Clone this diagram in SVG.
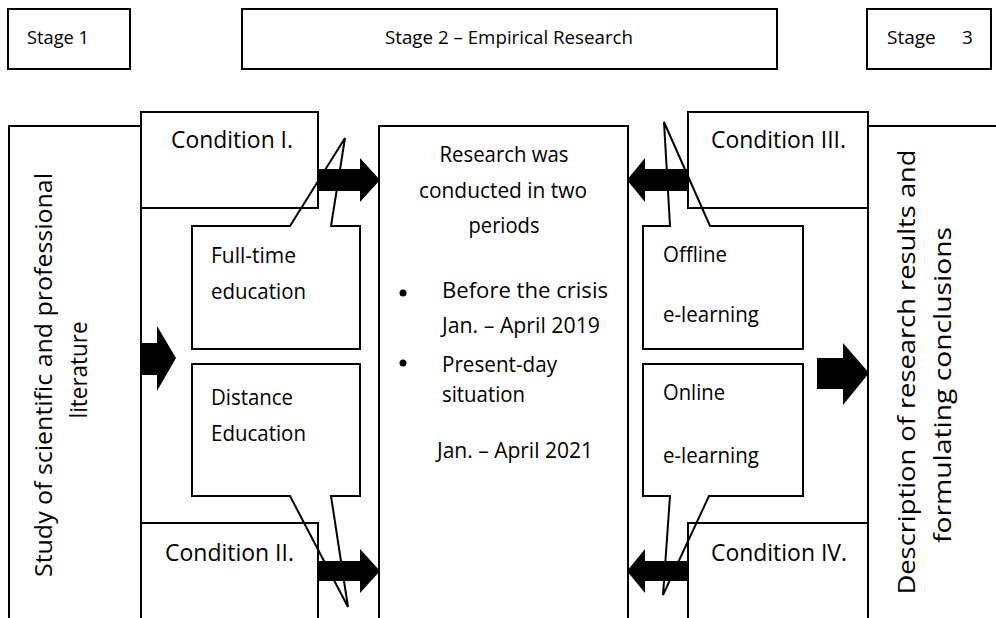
<svg xmlns="http://www.w3.org/2000/svg" width="996" height="618" viewBox="0 0 996 618">
<style>
.b{fill:none;stroke:#000;stroke-width:2}
.ar{fill:#000;stroke:none}
text{font-family:"Open Sans","Noto Sans","Liberation Sans",sans-serif;fill:#000}
.s{font-size:19px}
.c{font-size:23px}
.t{font-size:21px}
.r{font-size:23px}
</style>
<rect width="996" height="618" fill="#fff"/>
<g id="stage1"><rect class="b" x="8" y="9" width="122" height="60"/><text class="s" x="27" y="44" textLength="62" lengthAdjust="spacingAndGlyphs">Stage 1</text></g>
<g id="stage2"><rect class="b" x="242" y="9" width="535" height="60"/><text class="s" x="509" y="44" text-anchor="middle" textLength="248" lengthAdjust="spacingAndGlyphs">Stage 2 – Empirical Research</text></g>
<g id="stage3"><rect class="b" x="867" y="9" width="124" height="60"/><text class="s" x="887" y="44">Stage<tspan x="962">3</tspan></text></g>

<g id="col-left"><path class="b" d="M9,618 V126 H141 V618"/>
<text class="r" transform="translate(52,375) rotate(-90)" text-anchor="middle" textLength="404" lengthAdjust="spacingAndGlyphs">Study of scientific and professional</text>
<text class="r" transform="translate(87,370) rotate(-90)" text-anchor="middle" textLength="97" lengthAdjust="spacingAndGlyphs">literature</text></g>
<g id="col-mid"><path class="b" d="M379,618 V126 H628 V618"/>
<text class="t" x="504" y="162" text-anchor="middle" textLength="129" lengthAdjust="spacingAndGlyphs">Research was</text>
<text class="t" x="503" y="198" text-anchor="middle" textLength="168" lengthAdjust="spacingAndGlyphs">conducted in two</text>
<text class="t" x="504" y="233" text-anchor="middle" textLength="71" lengthAdjust="spacingAndGlyphs">periods</text>
<circle cx="403" cy="293" r="3.5"/>
<text class="t" x="442" y="298" textLength="166" lengthAdjust="spacingAndGlyphs">Before the crisis</text>
<text class="t" x="442" y="333" textLength="158" lengthAdjust="spacingAndGlyphs">Jan. – April 2019</text>
<circle cx="403" cy="363" r="3.5"/>
<text class="t" x="442" y="372" textLength="115" lengthAdjust="spacingAndGlyphs">Present-day</text>
<text class="t" x="442" y="402" textLength="83" lengthAdjust="spacingAndGlyphs">situation</text>
<text class="t" x="437" y="458" textLength="156" lengthAdjust="spacingAndGlyphs">Jan. – April 2021</text></g>
<g id="col-right"><path class="b" d="M868,618 V126 H996"/>
<text class="r" transform="translate(915,372) rotate(-90)" text-anchor="middle" textLength="445" lengthAdjust="spacingAndGlyphs">Description of research results and</text>
<text class="r" transform="translate(951,385) rotate(-90)" text-anchor="middle" textLength="316" lengthAdjust="spacingAndGlyphs">formulating conclusions</text></g>

<g id="cond1"><rect class="b" x="141" y="112" width="177" height="96"/><text class="c" x="171" y="148" textLength="122" lengthAdjust="spacingAndGlyphs">Condition I.</text></g>
<g id="cond2"><path class="b" d="M141,618 V523 H318 V618"/><text class="c" x="165" y="561" textLength="129" lengthAdjust="spacingAndGlyphs">Condition II.</text></g>
<g id="cond3"><rect class="b" x="688" y="112" width="180" height="96"/><text class="c" x="711" y="148" textLength="135" lengthAdjust="spacingAndGlyphs">Condition III.</text></g>
<g id="cond4"><path class="b" d="M688,618 V523 H868 V618"/><text class="c" x="711" y="561" textLength="136" lengthAdjust="spacingAndGlyphs">Condition IV.</text></g>

<g id="callout-fulltime"><path class="b" d="M192,226 H290 L345,138 L331,226 H360 V349 H192 Z"/>
<text class="t" x="211" y="263" textLength="85" lengthAdjust="spacingAndGlyphs">Full-time</text><text class="t" x="211" y="299" textLength="95" lengthAdjust="spacingAndGlyphs">education</text></g>
<g id="callout-distance"><path class="b" d="M192,364 H360 V496 H331 L348,607 L290,496 H192 Z"/>
<text class="t" x="211" y="405" textLength="82" lengthAdjust="spacingAndGlyphs">Distance</text><text class="t" x="211" y="441" textLength="95" lengthAdjust="spacingAndGlyphs">Education</text></g>
<g id="callout-offline"><path class="b" d="M643,226 H670 L664,122 L710,226 H803 V349 H643 Z"/>
<text class="t" x="663" y="262" textLength="64" lengthAdjust="spacingAndGlyphs">Offline</text><text class="t" x="663" y="322" textLength="96" lengthAdjust="spacingAndGlyphs">e-learning</text></g>
<g id="callout-online"><path class="b" d="M643,364 H803 V496 H709 L663,595 L670,496 H643 Z"/>
<text class="t" x="663" y="400" textLength="62" lengthAdjust="spacingAndGlyphs">Online</text><text class="t" x="663" y="463" textLength="96" lengthAdjust="spacingAndGlyphs">e-learning</text></g>

<g id="connectors">
<path class="ar" d="M318,169 H360 V158 L380,180 L360,202 V191 H318 Z"/>
<path class="ar" d="M318,561 H360 V549 L380,571 L360,593 V581 H318 Z"/>
<path class="ar" d="M688,169 H645 V158 L627,180 L645,202 V191 H688 Z"/>
<path class="ar" d="M688,561 H645 V549 L627,571 L645,593 V581 H688 Z"/>
<path class="ar" d="M141,343 H157 V326 L176,358 L157,391 V375 H141 Z"/>
<path class="ar" d="M817,358 H843 V343 L869,373 L843,405 V389 H817 Z"/>
</g>
</svg>
